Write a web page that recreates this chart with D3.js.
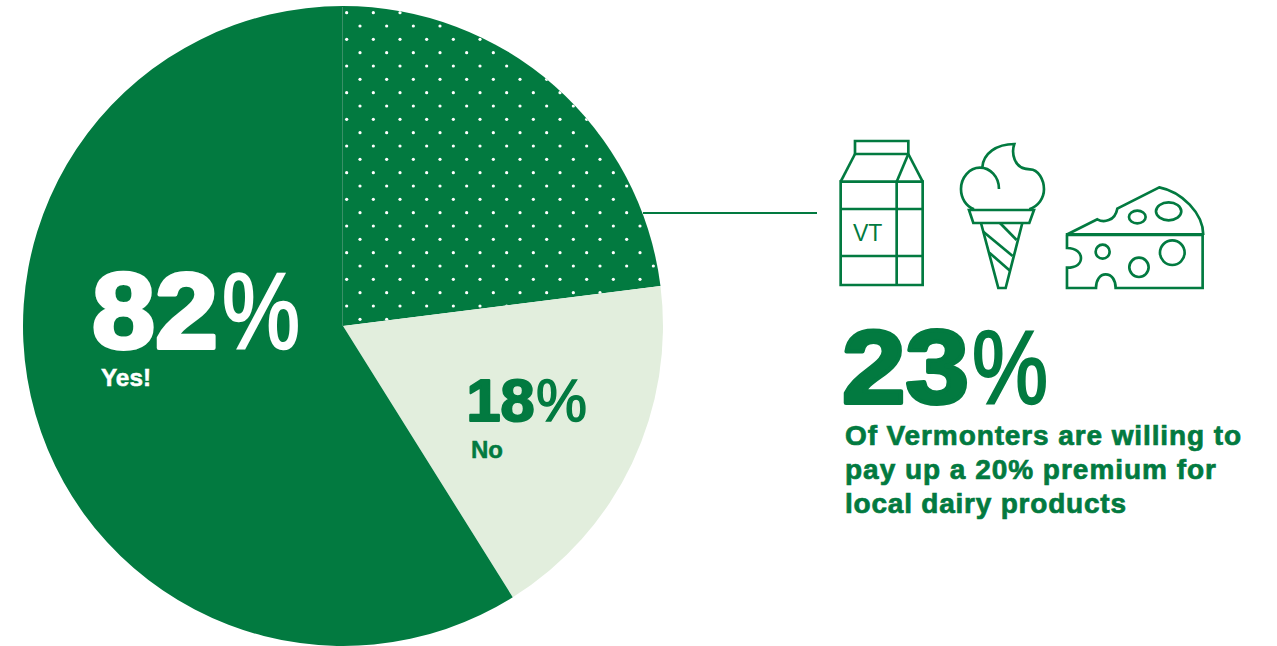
<!DOCTYPE html>
<html><head><meta charset="utf-8">
<script src="https://cdn.jsdelivr.net/npm/d3@7"></script>
<style>html,body{margin:0;padding:0;background:#fff;overflow:hidden}svg{display:block}text{font-family:"Liberation Sans",Arial,sans-serif}</style>
</head><body>
<script>
const sliceNames = ["Yes, willing to pay premium", "No", "Yes"];
const sliceValues = [23, 18.1, 58.9];
const sliceFills = ["#027A40", "#E2EEDD", "#027A40"];
const headlineLines = ["Of Vermonters are willing to", "pay up a 20% premium for", "local dairy products"];
const GREEN = "#027A40";
const W = 1277, H = 646;
const svg = d3.select("body").append("svg").attr("width", W).attr("height", H).attr("viewBox", `0 0 ${W} ${H}`);

const cx = 343, cy = 326, R = 320;
const pie = d3.pie().sort(null).value(d => d);
const arc = d3.arc().innerRadius(0).outerRadius(R);
const arcs = pie(sliceValues);
const g = svg.append("g").attr("transform", `translate(${cx},${cy})`);
g.selectAll("path").data(arcs).join("path")
  .attr("d", arc).attr("fill", (d,i) => sliceFills[i])
  .append("title").text((d,i) => sliceNames[i]);

// dotted texture on the first slice
svg.append("defs").append("clipPath").attr("id", "dotClip")
  .append("path").attr("transform", `translate(${cx},${cy})`).attr("d", arc(arcs[0]));
const step = 40/3;
const dotLayer = svg.append("g").attr("clip-path", "url(#dotClip)").attr("fill", "#fff");
d3.range(0, 24).forEach(r => d3.range(0, 25).forEach(c => {
  if ((r + c) % 2 === 0) dotLayer.append("circle")
    .attr("cx", 340 + step/2 + c*step).attr("cy", 6 + step/2 + r*step).attr("r", 1.6);
}));
// faint seam at 12 o'clock
svg.append("line").attr("x1", cx-0.5).attr("x2", cx-0.5).attr("y1", cy-R+1).attr("y2", cy).attr("stroke", "#3A9068").attr("stroke-width", 1);

// leader
svg.append("line").attr("x1", 643).attr("x2", 817).attr("y1", 213).attr("y2", 213).attr("stroke", GREEN).attr("stroke-width", 2.2);

function bigPct(num, x, y, size, numW, pctX, pctW, pctSize, color, sw, psw) {
  svg.append("text").attr("x", x).attr("y", y).attr("font-size", size).attr("font-weight", 700)
    .attr("fill", color).attr("stroke", color).attr("stroke-width", sw).attr("stroke-linejoin", "round")
    .attr("textLength", numW).attr("lengthAdjust", "spacingAndGlyphs").text(num);
  svg.append("text").attr("x", pctX).attr("y", y).attr("font-size", pctSize).attr("font-weight", 400)
    .attr("fill", color).attr("stroke", color).attr("stroke-width", psw)
    .attr("textLength", pctW).attr("lengthAdjust", "spacingAndGlyphs").text("%");
}
bigPct("82", 92, 347.5, 107, 126, 222, 78, 107, "#fff", 4, 2.4);
bigPct("18", 466.5, 420.5, 59, 68, 536, 51, 59, GREEN, 2.2, 1.4);
bigPct("23", 842, 402.5, 103, 127, 972, 76, 103, GREEN, 4, 2.4);

function label(t, x, y, size, color, len) {
  svg.append("text").attr("x", x).attr("y", y).attr("font-size", size).attr("font-weight", 700)
    .attr("fill", color).attr("stroke", color).attr("stroke-width", 0.5)
    .attr("textLength", len).attr("lengthAdjust", "spacingAndGlyphs").text(t);
}
label("Yes!", 101, 386, 24, "#fff", 50);
label("No", 471, 458, 24, GREEN, 32);

const lineLens = [396, 371, 281];
const lineYs = [445, 479, 513];
headlineLines.forEach((t,i) => {
  svg.append("text").attr("x", 845).attr("y", lineYs[i]).attr("font-size", 28).attr("font-weight", 700)
    .attr("fill", GREEN).attr("stroke", GREEN).attr("stroke-width", 0.7)
    .attr("textLength", lineLens[i]).attr("lengthAdjust", "spacing").text(t);
});

// icons, drawn in a 3x working space
const ic = svg.append("g").attr("transform", "translate(820,130) scale(0.3333)")
  .attr("fill", "none").attr("stroke", GREEN).attr("stroke-width", 8).attr("stroke-linejoin", "miter");
const iconPaths = [
  // carton
  "M105 33H265V72H105Z", "M62 155H308V465H62Z", "M230 155V465", "M62 237H308", "M62 378H308",
  "M105 72L62 155", "M265 72L308 155", "M265 72L230 155",
  // ice cream
  "M537 177C537 140 510 113 480 113C448 113 423 143 423 177C423 205 438 228 462 238",
  "M487 112C490 70 530 42 583 42C575 65 578 118 630 118C655 118 672 150 672 178C672 205 655 228 628 238",
  "M447 240H642L628 279H460Z",
  "M483 279L535 474H557L607 279",
  "M540 279L590 330", "M490 305L578 378", "M508 368L570 422",
  // cheese
  "M738 315L832 268C850 278 885 275 892 236L1018 172C1085 185 1150 250 1150 315",
  "M741 315V354C770 354 783 370 783 384C783 400 770 413 741 413V474H828C828 450 840 433 857 433C875 433 887 450 887 474H1148V315"
];
ic.selectAll("path").data(iconPaths).join("path").attr("d", d => d);
ic.append("path").attr("d", "M738 314H1150").attr("stroke-width", 10);
const holes = [[952,261,25,19],[1046,244,38,27],[848,365,21,21],[957,412,29,29],[1057,368,37,37]];
ic.selectAll("ellipse").data(holes).join("ellipse")
  .attr("cx", d=>d[0]).attr("cy", d=>d[1]).attr("rx", d=>d[2]).attr("ry", d=>d[3]);
svg.append("text").attr("x", 853).attr("y", 241).attr("font-size", 23).attr("fill", GREEN).text("VT");
</script>
</body></html>
